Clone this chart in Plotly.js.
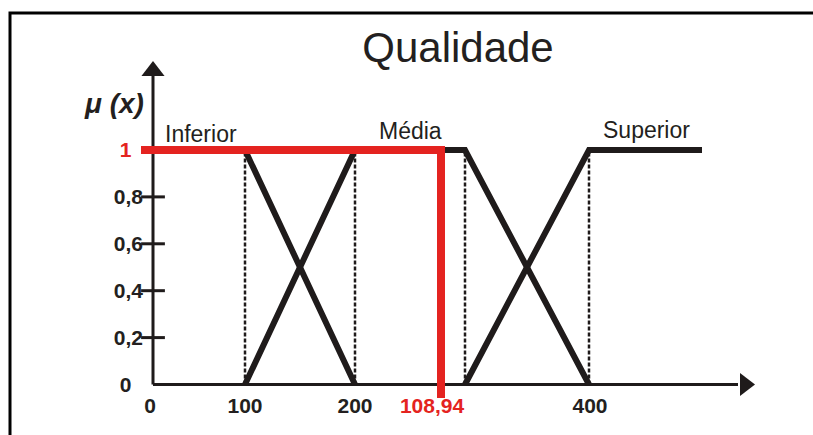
<!DOCTYPE html>
<html>
<head>
<meta charset="utf-8">
<script src="https://cdn.plot.ly/plotly-3.0.1.min.js"></script>
<style>html,body{margin:0;padding:0;background:#fff;}#chart{width:813px;height:435px;}</style>
</head>
<body>
<div id="chart"></div>
<script>
// Schematic x positions (the drawing is not to scale)
const setNames = ['Inferior', 'Média', 'Superior'];
const inferiorX = [0, 92, 202];
const inferiorY = [1, 1, 0];
const mediaX = [92, 202, 312, 436];
const mediaY = [0, 1, 1, 0];
const superiorX = [312, 436, 549];
const superiorY = [0, 1, 1];
const breakX = [92, 202, 312, 436];
const crispLabel = '108,94';
const crispX = 288;
const crispMu = 1;
const xTickVals = [-3, 92, 202, 279, 437];
const xTickText = ['0', '100', '200', '108,94', '400'];
const yTickVals = [0, 0.2, 0.4, 0.6, 0.8, 1];
const yTickText = ['0', '0,2', '0,4', '0,6', '0,8', '1'];
const setLabelX = [48, 257, 493];
const setLabelY = [1.068, 1.081, 1.085];

const BLACK = '#1f1b1b';
const RED = '#e42320';
const FONT = 'Arial, "Liberation Sans", sans-serif';

const traces = [];
// dashed verticals
breakX.forEach(function (x) {
  traces.push({x: [x, x], y: [0, 1], mode: 'lines', hoverinfo: 'skip',
    line: {color: BLACK, width: 2.5, dash: '4px,2px'}, showlegend: false});
});
// axes
traces.push({x: [0, 585], y: [0, 0], mode: 'lines', line: {color: BLACK, width: 3}, showlegend: false, hoverinfo: 'skip'});
traces.push({x: [0, 0], y: [0, 1.33], mode: 'lines', line: {color: BLACK, width: 3}, showlegend: false, hoverinfo: 'skip'});
traces.push({x: [592], y: [0], mode: 'markers', marker: {symbol: 'triangle-right', size: 20, color: BLACK}, showlegend: false, hoverinfo: 'skip', cliponaxis: false});
traces.push({x: [0], y: [1.337], mode: 'markers', marker: {symbol: 'triangle-up', size: 20, color: BLACK}, showlegend: false, hoverinfo: 'skip', cliponaxis: false});
// y tick marks (only the inner ticks carry a mark)
const markedY = yTickVals.filter(function (v) { return v > 0 && v < crispMu; });
traces.push({x: markedY.map(function () { return 0; }), y: markedY, mode: 'markers',
  marker: {symbol: 'line-ew', size: 17, line: {color: BLACK, width: 3}}, showlegend: false, hoverinfo: 'skip'});
// membership functions
[[inferiorX, inferiorY], [mediaX, mediaY], [superiorX, superiorY]].forEach(function (s, i) {
  traces.push({x: s[0], y: s[1], mode: 'lines', name: setNames[i], line: {color: BLACK, width: 6}, showlegend: false});
});
// crisp value (red)
traces.push({x: [-12, crispX, crispX], y: [crispMu, crispMu, -0.058], mode: 'lines', name: crispLabel,
  line: {color: RED, width: 8}, showlegend: false});

const annotations = setNames.map(function (n, i) {
  return {x: setLabelX[i], y: setLabelY[i], xref: 'x', yref: 'y', text: n, showarrow: false,
    xanchor: 'center', yanchor: 'middle', font: {family: FONT, size: 23, color: '#231f20'}};
});
annotations.push({x: (114 - 100) / 690, y: (420 - 103) / 370, xref: 'paper', yref: 'paper',
  xanchor: 'center', yanchor: 'middle',
  text: '<b><i>μ (x)</i></b>', showarrow: false, font: {family: FONT, size: 28, color: '#231f20'}});

const yText = yTickText.map(function (t, i) {
  const v = yTickVals[i];
  const pad = (v === 0 || v === crispMu) ? '\u00a0\u00a0' : '';
  return v === crispMu ? '<span style="color:' + RED + '">' + t + pad + '</span>' : t + pad;
});
const xText = xTickText.map(function (t) {
  return t === crispLabel ? '<span style="color:' + RED + '">' + t + '</span>' : t;
});

const layout = {
  width: 813, height: 435,
  margin: {l: 100, r: 23, t: 50, b: 15, autoexpand: false},
  paper_bgcolor: '#ffffff', plot_bgcolor: '#ffffff',
  title: {text: 'Qualidade', x: 458 / 813, xanchor: 'center', y: 1 - 47 / 435, yanchor: 'middle',
    font: {family: FONT, size: 42, color: '#231f20'}},
  xaxis: {range: [-53, 637], anchor: 'free', position: (420 - 384.5) / 370, automargin: false, showgrid: false,
    zeroline: false, showline: false, ticks: '', ticklabelstandoff: 6, tickmode: 'array', tickvals: xTickVals,
    ticktext: xText, tickfont: {family: FONT, size: 21, color: '#231f20', weight: 'bold'}, fixedrange: true},
  yaxis: {range: [-0.1514, 1.4264], anchor: 'free', position: (153 - 100) / 690, automargin: false, showgrid: false,
    zeroline: false, showline: false, ticks: '', ticklabelstandoff: 10, tickmode: 'array', tickvals: yTickVals,
    ticktext: yText, tickfont: {family: FONT, size: 21, color: '#231f20', weight: 'bold'}, fixedrange: true},
  shapes: [{type: 'rect', xref: 'paper', yref: 'paper', x0: (10 - 100) / 690, x1: 1.1, y0: -0.2, y1: (420 - 13) / 370,
    line: {color: '#000', width: 3}, fillcolor: 'rgba(0,0,0,0)', layer: 'below'}],
  annotations: annotations,
  showlegend: false
};

Plotly.newPlot('chart', traces, layout, {displayModeBar: false, staticPlot: true});
</script>
</body>
</html>
